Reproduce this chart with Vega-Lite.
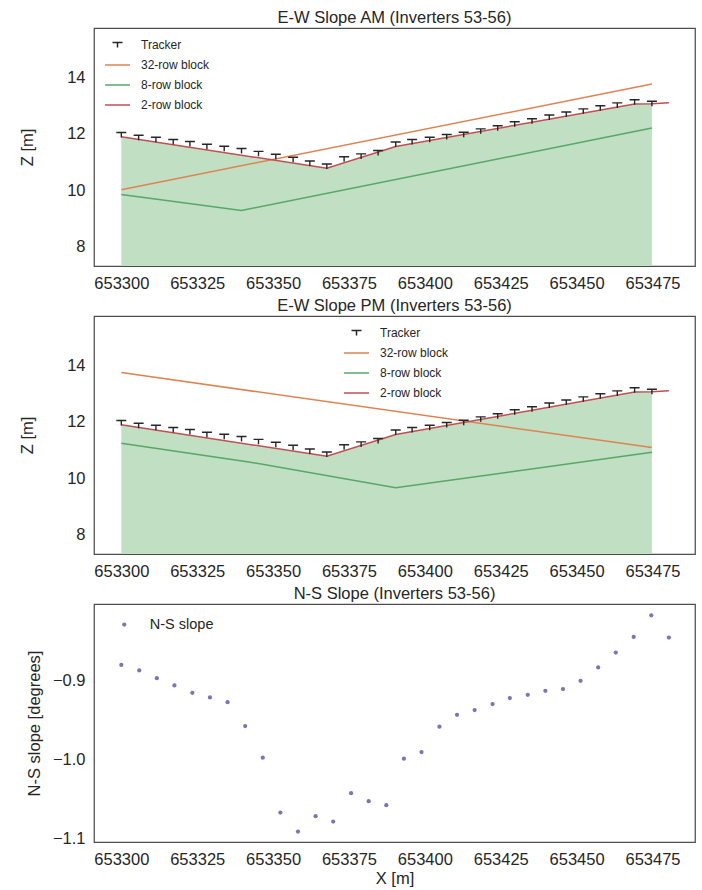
{
  "$schema": "https://vega.github.io/schema/vega-lite/v6.json",
  "padding": {"left": 18, "top": 8, "right": 5, "bottom": 5},
  "bounds": "flush",
  "spacing": 50,
  "datasets": {
    "trackers": [
      {"x": 653300.0, "z": 12.05}, {"x": 653305.7, "z": 11.95}, {"x": 653311.4, "z": 11.88}, {"x": 653317.1, "z": 11.80},
      {"x": 653322.6, "z": 11.73}, {"x": 653328.2, "z": 11.63}, {"x": 653333.9, "z": 11.56}, {"x": 653339.6, "z": 11.48},
      {"x": 653345.2, "z": 11.38}, {"x": 653350.9, "z": 11.28}, {"x": 653356.6, "z": 11.17}, {"x": 653362.1, "z": 11.04},
      {"x": 653367.7, "z": 10.93}, {"x": 653373.4, "z": 11.19}, {"x": 653379.0, "z": 11.29}, {"x": 653384.6, "z": 11.41},
      {"x": 653390.4, "z": 11.71}, {"x": 653395.8, "z": 11.80}, {"x": 653401.6, "z": 11.88}, {"x": 653407.2, "z": 11.98},
      {"x": 653412.8, "z": 12.06}, {"x": 653418.4, "z": 12.18}, {"x": 653424.0, "z": 12.29}, {"x": 653429.6, "z": 12.43},
      {"x": 653435.3, "z": 12.54}, {"x": 653441.0, "z": 12.67}, {"x": 653446.6, "z": 12.78}, {"x": 653452.2, "z": 12.89},
      {"x": 653457.8, "z": 13.00}, {"x": 653463.4, "z": 13.10}, {"x": 653469.1, "z": 13.21}, {"x": 653474.8, "z": 13.16}
    ],
    "red": [
      {"x": 653300.0, "z": 11.90}, {"x": 653367.7, "z": 10.78}, {"x": 653390.4, "z": 11.55},
      {"x": 653469.1, "z": 13.06}, {"x": 653474.8, "z": 13.07}, {"x": 653480.4, "z": 13.11}
    ],
    "am32": [{"x": 653300.0, "z": 10.02}, {"x": 653474.8, "z": 13.77}],
    "am8": [{"x": 653300.0, "z": 9.85}, {"x": 653339.6, "z": 9.28}, {"x": 653474.8, "z": 12.21}],
    "pm32": [{"x": 653300.0, "z": 13.75}, {"x": 653474.8, "z": 11.09}],
    "pm8": [{"x": 653300.0, "z": 11.24}, {"x": 653342.0, "z": 10.58}, {"x": 653390.4, "z": 9.66}, {"x": 653474.8, "z": 10.92}],
    "ns": [
      {"x": 653300.0, "s": -0.8808}, {"x": 653305.9, "s": -0.8878}, {"x": 653311.7, "s": -0.8975}, {"x": 653317.5, "s": -0.9067},
      {"x": 653323.4, "s": -0.9160}, {"x": 653329.2, "s": -0.9218}, {"x": 653335.0, "s": -0.9277}, {"x": 653340.8, "s": -0.9579},
      {"x": 653346.6, "s": -0.9977}, {"x": 653352.4, "s": -1.0669}, {"x": 653358.2, "s": -1.0908}, {"x": 653364.0, "s": -1.0714},
      {"x": 653369.8, "s": -1.0782}, {"x": 653375.7, "s": -1.0425}, {"x": 653381.5, "s": -1.0526}, {"x": 653387.3, "s": -1.0576},
      {"x": 653393.1, "s": -0.9990}, {"x": 653398.9, "s": -0.9906}, {"x": 653404.8, "s": -0.9587}, {"x": 653410.6, "s": -0.9437},
      {"x": 653416.4, "s": -0.9377}, {"x": 653422.3, "s": -0.9302}, {"x": 653428.0, "s": -0.9226}, {"x": 653433.9, "s": -0.9185},
      {"x": 653439.7, "s": -0.9135}, {"x": 653445.5, "s": -0.9113}, {"x": 653451.3, "s": -0.9009}, {"x": 653457.1, "s": -0.8840},
      {"x": 653462.9, "s": -0.8652}, {"x": 653468.8, "s": -0.8455}, {"x": 653474.6, "s": -0.8182}, {"x": 653480.4, "s": -0.8463}
    ]
  },
  "resolve": {"scale": {"color": "independent"}, "legend": {"color": "independent"}},
  "vconcat": [
    {
      "width": 601, "height": 238,
      "title": {"text": "E-W Slope AM (Inverters 53-56)"},
      "encoding": {
        "x": {"field": "x", "type": "quantitative", "scale": {"domain": [653291, 653489], "nice": false, "zero": false},
              "axis": {"title": null, "values": [653300, 653325, 653350, 653375, 653400, 653425, 653450, 653475], "format": "d"}},
        "y": {"field": "z", "type": "quantitative", "scale": {"domain": [7.31, 15.76], "nice": false, "zero": false},
              "axis": {"title": "Z [m]", "values": [8, 10, 12, 14], "titleX": -67, "titleY": 119, "titleBaseline": "middle"}}
      },
      "layer": [
        {"data": {"name": "red"}, "transform": [{"filter": "datum.x <= 653475"}],
         "mark": {"type": "area", "color": "#c1dfc2", "opacity": 1},
         "encoding": {"y2": {"datum": 7.31}}},
        {"data": {"name": "am32"}, "mark": {"type": "line", "strokeWidth": 1.5},
         "encoding": {"color": {"datum": "32-row block", "type": "nominal",
           "scale": {"domain": ["Tracker", "32-row block", "8-row block", "2-row block"], "range": ["#262626", "#dd8452", "#55a868", "#c44e52"]},
           "legend": {"orient": "none", "legendX": 10, "legendY": 3.5, "title": null,
             "symbolSize": 625, "labelFontSize": 12, "labelColor": "#262626", "labelOffset": 10, "rowPadding": -7.7, "padding": 0,
             "encode": {"symbols": {"update": {
               "shape": {"signal": "datum.value === 'Tracker' ? 'M-0.4,-0.2L0.4,-0.2M0,-0.2L0,0.2' : 'M-1,0L1,0'"},
               "strokeWidth": {"value": 1.5}, "fill": {"value": "transparent"}}}}}}}},
        {"data": {"name": "am8"}, "mark": {"type": "line", "strokeWidth": 1.5},
         "encoding": {"color": {"datum": "8-row block", "type": "nominal"}}},
        {"data": {"name": "red"}, "mark": {"type": "line", "strokeWidth": 1.5},
         "encoding": {"color": {"datum": "2-row block", "type": "nominal"}}},
        {"data": {"name": "trackers"}, "mark": {"type": "point", "shape": "M-1,0L1,0M0,0L0,1", "size": 100, "filled": false, "strokeWidth": 1.4, "opacity": 1},
         "encoding": {"color": {"datum": "Tracker", "type": "nominal"}}}
      ]
    },
    {
      "width": 601, "height": 238,
      "title": {"text": "E-W Slope PM (Inverters 53-56)"},
      "encoding": {
        "x": {"field": "x", "type": "quantitative", "scale": {"domain": [653291, 653489], "nice": false, "zero": false},
              "axis": {"title": null, "values": [653300, 653325, 653350, 653375, 653400, 653425, 653450, 653475], "format": "d"}},
        "y": {"field": "z", "type": "quantitative", "scale": {"domain": [7.31, 15.76], "nice": false, "zero": false},
              "axis": {"title": "Z [m]", "values": [8, 10, 12, 14], "titleX": -67, "titleY": 119, "titleBaseline": "middle"}}
      },
      "layer": [
        {"data": {"name": "red"}, "transform": [{"filter": "datum.x <= 653475"}],
         "mark": {"type": "area", "color": "#c1dfc2", "opacity": 1},
         "encoding": {"y2": {"datum": 7.31}}},
        {"data": {"name": "pm32"}, "mark": {"type": "line", "strokeWidth": 1.5},
         "encoding": {"color": {"datum": "32-row block", "type": "nominal",
           "scale": {"domain": ["Tracker", "32-row block", "8-row block", "2-row block"], "range": ["#262626", "#dd8452", "#55a868", "#c44e52"]},
           "legend": {"orient": "none", "legendX": 249, "legendY": 3.5, "title": null,
             "symbolSize": 625, "labelFontSize": 12, "labelColor": "#262626", "labelOffset": 10, "rowPadding": -7.7, "padding": 0,
             "encode": {"symbols": {"update": {
               "shape": {"signal": "datum.value === 'Tracker' ? 'M-0.4,-0.2L0.4,-0.2M0,-0.2L0,0.2' : 'M-1,0L1,0'"},
               "strokeWidth": {"value": 1.5}, "fill": {"value": "transparent"}}}}}}}},
        {"data": {"name": "pm8"}, "mark": {"type": "line", "strokeWidth": 1.5},
         "encoding": {"color": {"datum": "8-row block", "type": "nominal"}}},
        {"data": {"name": "red"}, "mark": {"type": "line", "strokeWidth": 1.5},
         "encoding": {"color": {"datum": "2-row block", "type": "nominal"}}},
        {"data": {"name": "trackers"}, "mark": {"type": "point", "shape": "M-1,0L1,0M0,0L0,1", "size": 100, "filled": false, "strokeWidth": 1.4, "opacity": 1},
         "encoding": {"color": {"datum": "Tracker", "type": "nominal"}}}
      ]
    },
    {
      "width": 601, "height": 238,
      "title": {"text": "N-S Slope (Inverters 53-56)"},
      "data": {"name": "ns"},
      "mark": {"type": "point", "filled": true, "size": 18, "opacity": 1},
      "encoding": {
        "x": {"field": "x", "type": "quantitative", "scale": {"domain": [653291, 653489], "nice": false, "zero": false},
              "axis": {"title": "X [m]", "values": [653300, 653325, 653350, 653375, 653400, 653425, 653450, 653475], "format": "d", "titlePadding": 3}},
        "y": {"field": "s", "type": "quantitative", "scale": {"domain": [-1.104, -0.804], "nice": false, "zero": false},
              "axis": {"title": "N-S slope [degrees]", "values": [-1.1, -1.0, -0.9], "format": ".1f", "titleX": -60, "titleY": 119, "titleBaseline": "middle"}},
        "color": {"datum": "N-S slope", "type": "nominal", "scale": {"domain": ["N-S slope"], "range": ["#8172b3"]},
          "legend": {"orient": "none", "legendX": 23, "legendY": 13.3, "title": null, "symbolSize": 18,
            "labelFontSize": 14.5, "labelColor": "#262626", "labelOffset": 18.3, "padding": 0}}
      }
    }
  ],
  "config": {
    "font": "Liberation Sans",
    "background": "white",
    "view": {"stroke": "#4d4d4d", "strokeWidth": 1.25},
    "axis": {"grid": false, "ticks": false, "domain": false, "labelFontSize": 16.5, "labelColor": "#262626",
             "titleFontSize": 16.5, "titleColor": "#262626", "titleFontWeight": "normal", "labelPadding": 9, "labelFont": "Liberation Sans", "titleFont": "Liberation Sans"},
    "title": {"fontSize": 16.5, "fontWeight": "normal", "color": "#262626", "offset": 2, "font": "Liberation Sans"},
    "legend": {"labelFont": "Liberation Sans"}
  }
}
